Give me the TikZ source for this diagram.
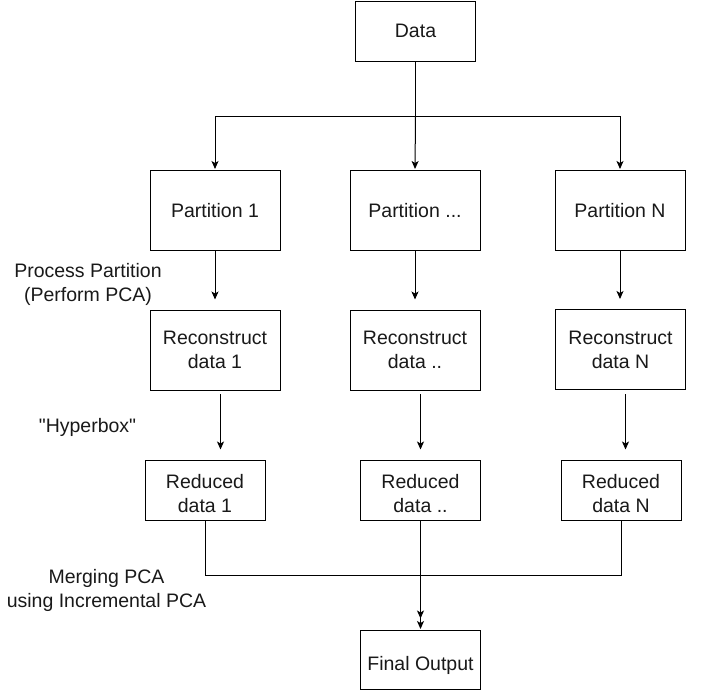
\documentclass[tikz,border=0pt]{standalone}
\usepackage{fontspec}
\setmainfont{Liberation Sans}[Ligatures=TeXOff]
\usetikzlibrary{arrows.meta}
\begin{document}
\begin{tikzpicture}[x=1pt,y=-1pt,
  txt/.style={font=\fontsize{19.5}{24}\selectfont, text=black!90},
  box/.style={txt, draw=black, line width=1pt, fill=white, inner sep=0pt, align=center},
  wide/.style={box, minimum width=130pt, minimum height=80pt},
  small/.style={box, minimum width=120pt, minimum height=60pt},
  lbl/.style={txt, inner sep=0pt, align=center},
  line/.style={line width=1pt, draw=black},
  arr/.style={line, -{Stealth[length=8pt,width=7pt,inset=2pt]}}]
\useasboundingbox (0,0) rectangle (709,691);

% nodes
\node[small] (data) at (415.5,31) {Data};
\node[wide] (p1) at (215,210.5) {Partition 1};
\node[wide] (p2) at (415,210.5) {Partition ...};
\node[wide] (pn) at (620,210.5) {Partition N};
\node[wide] (r1) at (215,350) {Reconstruct\\data 1};
\node[wide] (r2) at (415,350) {Reconstruct\\data ..};
\node[wide] (rn) at (620.5,349.5) {Reconstruct\\data N};
\node[small, label={[lbl, yshift=-4pt]center:Reduced\\data 1}] (d1) at (205,490) {};
\node[small, label={[lbl, yshift=-4pt]center:Reduced\\data ..}] (d2) at (420.5,490) {};
\node[small, label={[lbl, yshift=-4pt]center:Reduced\\data N}] (dn) at (621,490) {};
\node[small, minimum height=59pt, label={[lbl, yshift=-6pt]center:Final Output}] (fo) at (420.5,659.5) {};

% labels
\node[lbl] (l1) at (88,284) {Process Partition\\(Perform PCA)};
\node[lbl] (l2) at (87.5,427.5) {"Hyperbox"};
\node[lbl] (l3) at (106.5,590) {Merging PCA\\using Incremental PCA};

% coordinates
\coordinate (split) at (415.5,116.5);
\coordinate (merge) at (420.5,575);
\coordinate (a1) at (220.5,394);
\coordinate (a2) at (420.5,394);
\coordinate (an) at (625.5,394);

% data to partitions
\draw[line] (data.south) -- (split);
\draw[arr, shorten >=1pt] (split) -- (p2.north);
\draw[arr, shorten >=1pt] (split) -| (p1.north);
\draw[arr, shorten >=1pt] (split) -| (pn.north);

% partitions to reconstruct
\draw[arr, shorten >=10pt] (p1.south) -- (r1.north);
\draw[arr, shorten >=10pt] (p2.south) -- (r2.north);
\draw[arr, shorten >=10pt] (pn.south) -- (pn.south |- rn.north);

% reconstruct to reduced
\draw[arr, shorten >=10pt] (a1) -- (a1 |- d1.north);
\draw[arr, shorten >=10pt] (a2) -- (a2 |- d2.north);
\draw[arr, shorten >=10pt] (an) -- (an |- dn.north);

% reduced to final
\draw[line] (d1.south) |- (merge);
\draw[line] (dn.south) |- (merge);
\draw[arr, shorten >=11pt] (d2.south) -- (fo.north);
\draw[arr, shorten >=0.5pt] (merge) -- (fo.north);
\end{tikzpicture}
\end{document}
